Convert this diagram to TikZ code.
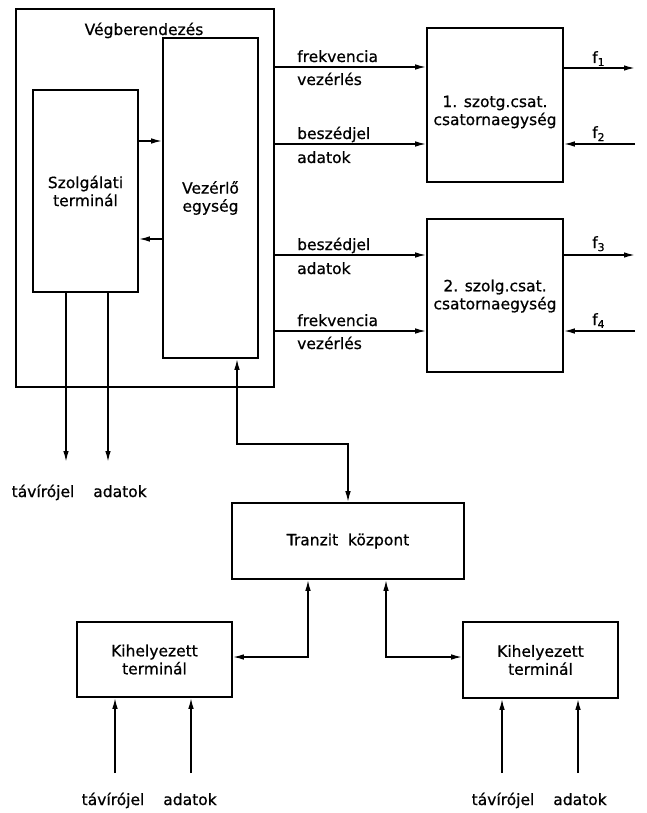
\documentclass[tikz,border=0pt]{standalone}
\usepackage{fontspec}
\setmainfont{DejaVu Sans}[AutoFakeBold=0.7]
\usetikzlibrary{arrows.meta}
\begin{document}
\begin{tikzpicture}[x=1pt,y=-1pt,
  every node/.style={font=\fontsize{15.5}{18}\selectfont\bfseries},
  blk/.style={draw,line width=1.6pt,inner sep=0pt,align=center},
  txt/.style={inner sep=0pt,align=center},
  conn/.style={line width=1.5pt},
  tip/.style={-{Latex[length=11pt,width=5.5pt]}},
  both/.style={{Latex[length=11pt,width=5.5pt]}-{Latex[length=11pt,width=5.5pt]}}]
\useasboundingbox (0,0) rectangle (646,813);
% boxes
\node[blk,minimum width=258pt,minimum height=378pt] (outer) at (145,198) {};
\node[txt,anchor=base] (title) at (144,35) {Végberendezés};
\node[blk,minimum width=105pt,minimum height=202pt] (szol) at (85.5,191) {Szolgálati\\terminál};
\node[blk,minimum width=95pt,minimum height=320pt] (vez) at (210.5,198) {Vezérlő\\egység};
\node[blk,minimum width=136pt,minimum height=154pt] (ch1) at (495,105) {};
\node[txt] (ch1t) at (495,112) {1. szotg.csat.\\csatornaegység};
\node[blk,minimum width=136pt,minimum height=153pt] (ch2) at (495,295.5) {};
\node[txt] (ch2t) at (495,296) {2. szolg.csat.\\csatornaegység};
\node[blk,minimum width=232pt,minimum height=76pt] (tr) at (348,541) {Tranzit\ \ központ};
\node[blk,minimum width=155pt,minimum height=75pt] (k1) at (154.5,659.5) {Kihelyezett\\terminál};
\node[blk,minimum width=155pt,minimum height=76pt] (k2) at (540.5,660) {Kihelyezett\\terminál};
% level coordinates
\coordinate (yA) at (0,67);
\coordinate (yB) at (0,144);
\coordinate (yC) at (0,255);
\coordinate (yD) at (0,331);
\coordinate (fA) at (635,68);
\coordinate (fB) at (635,144);
\coordinate (fC) at (635,255);
\coordinate (fD) at (635,331);
% outer -> channel units
\draw[conn,tip] (outer.east |- yA) -- (ch1.west |- yA);
\draw[conn,tip] (outer.east |- yB) -- (ch1.west |- yB);
\draw[conn,tip] (outer.east |- yC) -- (ch2.west |- yC);
\draw[conn,tip] (outer.east |- yD) -- (ch2.west |- yD);
\node[txt,anchor=base west] (l1a) at (297,62) {frekvencia};
\node[txt,anchor=base west] (l1b) at (297,85) {vezérlés};
\node[txt,anchor=base west] (l2a) at (297,139) {beszédjel};
\node[txt,anchor=base west] (l2b) at (297,163) {adatok};
\node[txt,anchor=base west] (l3a) at (297,250) {beszédjel};
\node[txt,anchor=base west] (l3b) at (297,274) {adatok};
\node[txt,anchor=base west] (l4a) at (297,326) {frekvencia};
\node[txt,anchor=base west] (l4b) at (297,349) {vezérlés};
% f lines
\draw[conn,tip] (ch1.east |- fA) -- (fA);
\draw[conn,tip] (fB) -- (ch1.east |- fB);
\draw[conn,tip] (ch2.east |- fC) -- (fC);
\draw[conn,tip] (fD) -- (ch2.east |- fD);
\node[txt,anchor=base west] (f1) at (592,63) {f\textsubscript{1}};
\node[txt,anchor=base west] (f2) at (592,138) {f\textsubscript{2}};
\node[txt,anchor=base west] (f3) at (592,248) {f\textsubscript{3}};
\node[txt,anchor=base west] (f4) at (592,325) {f\textsubscript{4}};
% internal arrows
\coordinate (yE) at (0,141);
\coordinate (yF) at (0,239);
\draw[conn,tip] (szol.east |- yE) -- (vez.west |- yE);
\draw[conn,tip] (vez.west |- yF) -- (szol.east |- yF);
% Szolgalati outputs
\coordinate (xa) at (66,462);
\coordinate (xb) at (108,462);
\draw[conn,tip] (szol.south -| xa) -- (xa);
\draw[conn,tip] (szol.south -| xb) -- (xb);
\node[txt,anchor=base] (s1) at (43,497) {távírójel};
\node[txt,anchor=base] (s2) at (120,497) {adatok};
% Vezerlo <-> Tranzit
\coordinate (vb) at (237,444);
\draw[conn,both] (vez.south -| vb) -- (vb) -- (vb -| tr.north) -- (tr.north);
% Tranzit <-> Kihelyezett
\coordinate (tl) at (308,657);
\coordinate (tq) at (386,657);
\draw[conn,both] (k1.east |- tl) -- (tl) -- (tr.south -| tl);
\draw[conn,both] (k2.west |- tq) -- (tq) -- (tr.south -| tq);
% bottom inputs
\coordinate (b1) at (115,773);
\coordinate (b2) at (191,773);
\coordinate (b3) at (502,773);
\coordinate (b4) at (578,773);
\draw[conn,tip] (b1) -- (k1.south -| b1);
\draw[conn,tip] (b2) -- (k1.south -| b2);
\draw[conn,tip] (b3) -- (k2.south -| b3);
\draw[conn,tip] (b4) -- (k2.south -| b4);
\node[txt,anchor=base] (t1) at (113,805) {távírójel};
\node[txt,anchor=base] (t2) at (190,805) {adatok};
\node[txt,anchor=base] (t3) at (503,805) {távírójel};
\node[txt,anchor=base] (t4) at (580,805) {adatok};
\end{tikzpicture}
\end{document}
